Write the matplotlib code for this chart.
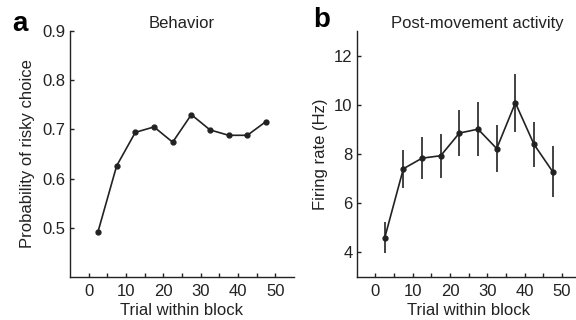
import matplotlib
matplotlib.use("Agg")
import matplotlib.pyplot as plt
import numpy as np

plt.rcParams['font.family'] = ['Liberation Sans', 'DejaVu Sans']
plt.rcParams['font.size'] = 12

# trial bins (centres) shared by both panels
trials = [2.5, 7.5, 12.5, 17.5, 22.5, 27.5, 32.5, 37.5, 42.5, 47.5]

# panel a: behaviour
p_risky = [0.492, 0.626, 0.694, 0.705, 0.674, 0.730, 0.699, 0.688, 0.688, 0.716]

# panel b: post-movement firing rate, mean and error
rate = [4.59, 7.40, 7.83, 7.93, 8.85, 9.01, 8.22, 10.08, 8.39, 7.28]
rate_err = [0.63, 0.78, 0.85, 0.90, 0.95, 1.10, 0.97, 1.18, 0.93, 1.03]

x_major = [0, 10, 20, 30, 40, 50]
x_minor = [5, 15, 25, 35, 45]

ink = '#222222'

fig = plt.figure(figsize=(5.76, 3.2), dpi=100)
W, H = 576.0, 320.0
ax_a = fig.add_axes([70 / W, 43 / H, 224 / W, 246 / H])
ax_b = fig.add_axes([356.7 / W, 43 / H, 224 / W, 246 / H])


def style(ax):
    for s in ['top', 'right']:
        ax.spines[s].set_visible(False)
    for s in ['left', 'bottom']:
        ax.spines[s].set_linewidth(1.0)
        ax.spines[s].set_color(ink)
    ax.set_xlim(-5, 55)
    ax.set_xticks(x_major)
    ax.set_xticks(x_minor, minor=True)
    ax.tick_params(which='both', direction='in', length=3, width=1.0,
                   color=ink, labelcolor=ink, labelsize=12)
    ax.tick_params(axis='x', which='both', pad=5)
    ax.tick_params(axis='y', pad=3)
    ax.set_xlabel('Trial within block', color=ink, fontsize=12)
    ax.xaxis.set_label_coords(0.5, -0.105)


# panel a
style(ax_a)
ax_a.plot(trials, p_risky, color=ink, lw=1.2, marker='o', ms=3.5)
ax_a.set_ylim(0.4, 0.9)
ax_a.set_yticks([0.5, 0.6, 0.7, 0.8, 0.9])
ax_a.set_yticklabels(['0.5', '0.6', '0.7', '0.8', '0.9'])
ax_a.set_ylabel('Probability of risky choice', color=ink, fontsize=12)
ax_a.yaxis.set_label_coords(-0.155, 0.5)
ax_a.text(0.5, 1.03, 'Behavior', transform=ax_a.transAxes, ha='center',
          va='center', fontsize=12, color=ink)
fig.text(20 / W, 1 - 24 / H, 'a', fontsize=20, fontweight='bold',
         ha='center', va='center')

# panel b
style(ax_b)
ax_b.errorbar(trials, rate, yerr=rate_err, color=ink, lw=1.2, elinewidth=1.2,
              capsize=0, marker='o', ms=3.5)
ax_b.set_ylim(3, 13)
ax_b.set_yticks([4, 6, 8, 10, 12])
ax_b.set_ylabel('Firing rate (Hz)', color=ink, fontsize=12)
ax_b.yaxis.set_label_coords(-0.128, 0.5)
ax_b.text(0.54, 1.03, 'Post-movement activity', transform=ax_b.transAxes,
          ha='center', va='center', fontsize=12, color=ink)
fig.text(322 / W, 1 - 20 / H, 'b', fontsize=20, fontweight='bold',
         ha='center', va='center')

fig.savefig('out.png', dpi=100)
